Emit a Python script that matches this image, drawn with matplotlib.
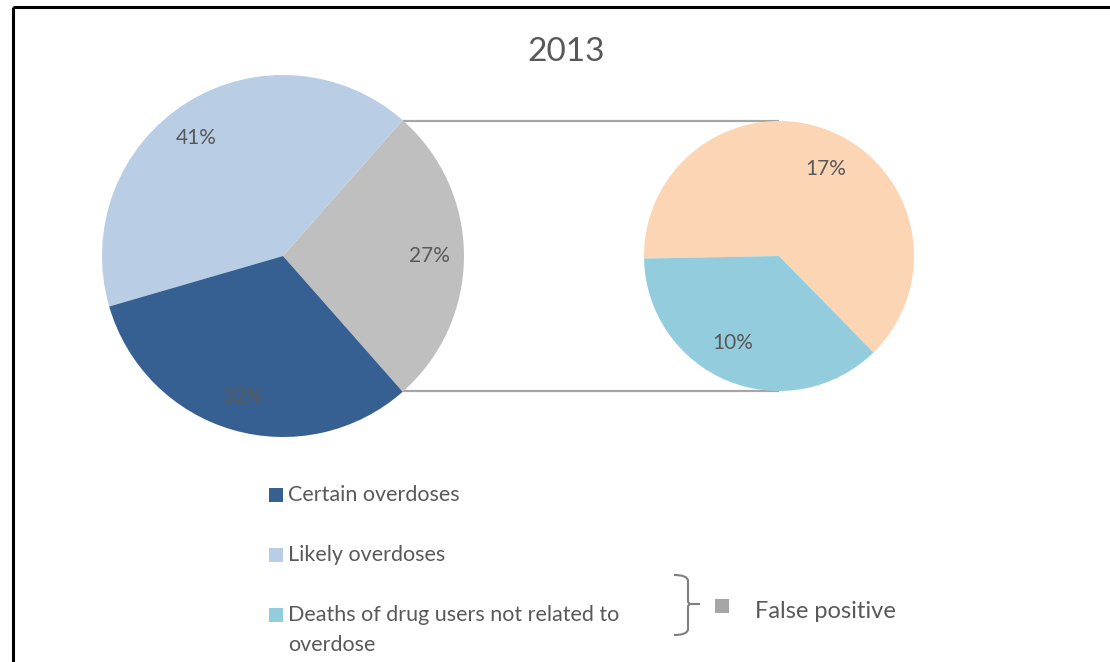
import matplotlib
matplotlib.use("Agg")
import matplotlib.pyplot as plt
from matplotlib.patches import Rectangle, PathPatch
from matplotlib.path import Path
import numpy as np

# ---- data -------------------------------------------------------------
title = "2013"
main_labels = ["False positive", "Likely overdoses", "Certain overdoses"]
main_values = [27, 41, 32]
main_colors = ["#BFBFBF", "#B9CDE5", "#376092"]

detail_labels = ["Other false positives", "Deaths of drug users not related to overdose"]
detail_values = [17, 10]
detail_colors = ["#FCD5B5", "#93CDDD"]

legend_labels = ["Certain overdoses", "Likely overdoses",
                 "Deaths of drug users not related to\noverdose"]
legend_colors = ["#376092", "#B9CDE5", "#93CDDD"]
group_label = "False positive"
group_color = "#A6A6A6"

TEXT = "#595959"
FONT = "Lato"

W, H = 1110, 662
fig = plt.figure(figsize=(W / 100, H / 100), dpi=100)
ax = fig.add_axes([0, 0, 1, 1])


def Y(y):
    """convert a top-down pixel row to axes y (bottom-up)"""
    return H - y


def rotate_labels(texts, center, degrees):
    """turn percentage labels round the pie centre by a few degrees"""
    r = np.deg2rad(degrees)
    for t in texts:
        x, y = t.get_position()
        dx, dy = x - center[0], y - center[1]
        t.set_position((center[0] + dx * np.cos(r) - dy * np.sin(r),
                        center[1] + dx * np.sin(r) + dy * np.cos(r)))


# ---- main pie: false-positive wedge centred on the right -------------
big_c, big_r = (283, Y(256)), 181
fp_span = 360 * main_values[0] / sum(main_values)
_, _, big_txt = ax.pie(main_values, colors=main_colors, center=big_c,
                       radius=big_r, startangle=-fp_span / 2, counterclock=True,
                       autopct=lambda p: f"{p:.0f}%", pctdistance=0.81,
                       wedgeprops=dict(linewidth=0),
                       textprops=dict(color=TEXT, fontsize=15, family=FONT))
rotate_labels(big_txt[1:2], big_c, 4)

# ---- detail pie breaking down the false positives --------------------
small_c, small_r = (779, Y(256)), 135
teal_span = 360 * detail_values[1] / sum(detail_values)
teal_mid = 247.75
_, _, small_txt = ax.pie(detail_values, colors=detail_colors, center=small_c,
                         radius=small_r,
                         startangle=teal_mid + teal_span / 2, counterclock=True,
                         autopct=lambda p: f"{p * sum(detail_values) / 100:.0f}%",
                         pctdistance=0.73,
                         wedgeprops=dict(linewidth=0),
                         textprops=dict(color=TEXT, fontsize=15, family=FONT))
rotate_labels(small_txt, small_c, -6)

# connector lines from the false-positive wedge edges to the detail pie
a = np.deg2rad(fp_span / 2)
ex = big_c[0] + big_r * np.cos(a)
for s in (1, -1):
    ax.plot([ex, small_c[0]], [small_c[1] + s * small_r] * 2,
            color="#A6A6A6", lw=1.6, solid_capstyle="butt", zorder=0)

ax.set_xlim(0, W)
ax.set_ylim(0, H)
ax.set_aspect("auto")
ax.axis("off")

# ---- title --------------------------------------------------------------
ax.text(566, Y(52), title, ha="center", va="center", fontsize=24,
        color=TEXT, family=FONT)

# ---- legend -------------------------------------------------------------
rows = [495, 555, 615]
for lab, col, yy in zip(legend_labels, legend_colors, rows):
    ax.add_patch(Rectangle((269, Y(yy) - 7), 14, 14, color=col, lw=0))
    for i, line in enumerate(lab.split("\n")):
        ax.text(288, Y(yy + 30 * i), line, ha="left", va="center",
                fontsize=15.5, color=TEXT, family=FONT)

# curly brace grouping the false-positive categories
bx0, bx1, tip = 674, 688, 700
yt, ym, yb = 575, 604, 635
upper = Path([(bx0, Y(yt)), (bx1, Y(yt)), (bx1, Y(yt + 6)),
              (bx1, Y(ym - 3)), (bx1, Y(ym)), (bx1 + 3, Y(ym)), (tip, Y(ym))],
             [Path.MOVETO, Path.CURVE3, Path.CURVE3, Path.LINETO,
              Path.CURVE3, Path.CURVE3, Path.LINETO])
lower = Path([(bx1 + 3, Y(ym)), (bx1, Y(ym)), (bx1, Y(ym + 3)),
              (bx1, Y(yb - 6)), (bx1, Y(yb)), (bx0, Y(yb))],
             [Path.MOVETO, Path.CURVE3, Path.CURVE3, Path.LINETO,
              Path.CURVE3, Path.CURVE3])
for p in (upper, lower):
    ax.add_patch(PathPatch(p, fill=False, edgecolor="#7F7F7F", lw=1.5))

ax.add_patch(Rectangle((715, Y(606) - 7), 14, 14, color=group_color, lw=0))
ax.text(755, Y(612), group_label, ha="left", va="center", fontsize=17,
        color=TEXT, family=FONT)

# ---- page frame ----------------------------------------------------------
ax.plot([13, W], [Y(7), Y(7)], color="black", lw=2.2, solid_capstyle="butt")
ax.plot([13, 13], [Y(7), 0], color="black", lw=2.2, solid_capstyle="butt")

fig.savefig("out.png", dpi=100)
